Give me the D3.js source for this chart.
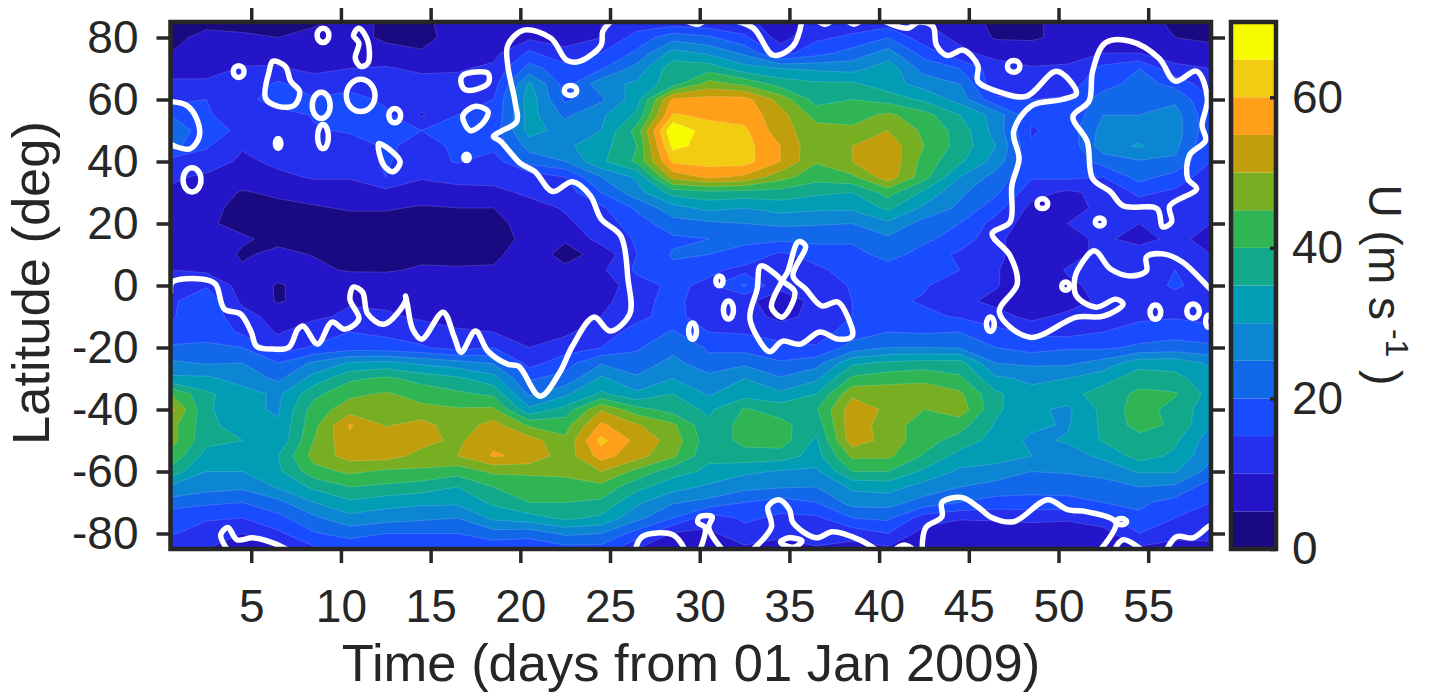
<!DOCTYPE html>
<html>
<head>
<meta charset="utf-8">
<script src="https://d3js.org/d3.v7.min.js"></script>
<style>
  html, body { margin: 0; padding: 0; background: #fff; }
  text { font-family: "Liberation Sans", Arial, sans-serif; fill: #262626; }
</style>
</head>
<body>
<div id="chart"></div>
<script>
// Zonal wind U, latitude against time

// grid columns, days from 01 Jan 2009
const days = d3.range(30).map(i => 0.5 + i * 2);
// grid rows, north to south
const lats = d3.range(35).map(i => 85 - i * 5);

// U (m/s), one line per latitude in the order of lats
const uRows = [
  [3,4,4,4,4,7,4,4,7,7,8,9,10,12,12,11,11,8,11,12,12,10,7,4,4,7,8,7,4,3],
  [4,6,5.5,5,7,7,4,3.5,7,6,9,8.5,10,17,23,21,16,8,14,16,20,12,9,4.5,4.5,6,7,7,5,4],
  [5,7,7.5,8,8,9,7,5.5,7,8.5,16,11,15,21,32,29,24,13,18,22,27,18,11,8.5,7,7.5,10,10,8,7],
  [9,8,10.5,10.5,9,10,10.5,9,9.5,11,22,17,19.5,27,38,38,32,30,29,28,33,23,20,12,10.5,11,16.5,20,11,10],
  [10.5,11,11,16,12,13,11,12,11.5,12.5,31,18,28,31,38,47,44,38,36,36,32,28,25,11.5,11.5,13,18,22,18.5,12],
  [12.5,15,12,19,15.5,17,14,12.5,14.5,15,33,19,24,33,56,57,57,48,38,40,38,34,28,16,15,15.5,22.5,23.5,24,15],
  [20,16,10.5,12,15.5,15,16,9.5,15,16,32,24,29,36,60.5,59,58,52,43,43,46,42,35,28,16,15.5,25,25,27,16],
  [24,17,14,13.5,14.5,15.5,16.5,15,15.5,17,32,28,30,42,70,62,61,52,47,46,50,44,38,28,14.5,17,27,28,27.5,16],
  [22,15.5,10.5,13,12,13,15.5,14,15.5,16.5,27,29,33,40,66.5,63,62,55,46,50,53,45,38,30,15.5,16,28,30.5,26.5,15],
  [13,13,9,11,12,13,15.5,12.5,15.5,12.5,22,25,34,41,61,62,62,55,45.5,50,54,43,36,28,15.5,16,22,24.5,24,15],
  [11,9,8,9,10.5,10.5,15,10.5,11,12,12,15,25,31,52,56,54,47,42,44,53,42,30,23,15.5,16,15,22,18,12],
  [9,8,4.5,6,7,7,8.5,7.5,9,8.5,11,12.5,20,28,37,38.5,38,38,36,35,42,34,26,21,12,9,11.5,16,14,12],
  [8.5,6,4,3.5,4.5,5.5,5.5,4.5,5,5,8,10.5,14,21,28,31.5,30,32,31,31,36,29,24,17,8.5,8.5,11,12.5,11,11],
  [7,5.5,4,4,3,3,3,3,3,3.5,7,9,12.5,17.5,23,24,25,26,25.5,25,29,23,20,13,7.5,10,11.5,10,12,10],
  [7,7,5.5,4,3.5,3,3,3,3,3.5,6,5.5,12,15.5,19,20,21,21,21.5,21,24,21,18,11.5,6,8.5,11,8,11.5,8],
  [7.5,7.5,4.5,6,4.8,3.5,3.5,4,3.5,4,7.5,3.5,6.5,15,20.5,20,18.5,14,17,18,22,18,14,11,7.5,8,11.5,13,14,10],
  [10,9,5.5,7,6,4.5,4.5,5.5,5.5,5.5,6.5,6,9,16,19,16,13.5,13,14,17,17.5,17,15,10.5,6,10.5,15,13.5,15,12],
  [12,14.5,8,4.5,7,9,8,7,7,6.5,6.5,6.5,7,13,16,14,20.5,11,12,15.5,16.5,15.5,12,10.5,6,9,11.5,11.5,16,12],
  [14,18.5,9,4.5,7,9.5,8.5,7.5,8,7,7,7,8,14,16,13,11,8,11,15,16,14.5,11.5,8.5,5.5,7,11.5,12,12.5,11],
  [14.5,18,12,8,9,11,11,9,8.5,7.5,7.5,7.5,10,14,16.5,12.5,11.5,9,11,15,17,16,14.5,12,8.5,11.5,12.5,14,14.5,13],
  [15.5,19,14,9.5,13,15,14,13,10.5,10,8.5,9,13,16.5,20.5,15,14.5,12,12.5,17.5,20,19.5,20,16.5,14,13,15,17,18,17],
  [21,20.5,20,12.5,15.5,17.5,17,15.5,13,15,10,12.5,15,19.5,23,19.5,18,17,15.5,22,25,25,24.5,20,18,19.5,19,21,22,21],
  [26,24.5,25,20,26,30.5,31.5,29,27,24.5,13,18,24.5,21.5,27,21,24,20.5,23,34,36,37,37,25,24,24,27,33,33,29],
  [31,31,28,24,32,39,41,38,36,32,19.5,21.5,31,26,30,27,30,25.5,29,41,43,44,41,31,29,30,33,38,36.5,32],
  [45,36,32,29,38.5,44,45.5,43.5,41,39,24,29,36,31,35,29.5,33,31,35,49,48,47.5,46,36,31.5,33,37.5,41,40.5,33],
  [52,36,31,29.5,42.5,47.5,47,46,45.5,46,31,37,49.5,42,38,34,40.5,38,39.5,53,49,45,48,36,31,29,36.5,42.5,38,32],
  [47,37,31.5,30.5,43.5,55.5,49.5,52,47,52,44,43,56,50.5,46,36,42,41.5,37,53.5,47,43,42,34.5,31,29.5,36,42,39,30],
  [47,36.5,35,31,45,54,53,51.5,49,54,52.5,46,61.5,53.5,48,37,41.5,42.5,34,53,48,42,38,33,29,30.5,35.5,38,36,27],
  [44,33,32,35,47,52,52,48.5,50,55.5,54,47,57,52,46,36,38,37.5,33,46,46,39.5,33,32,30,28,31,37,34,26],
  [38,30,30,34,43,46,44,44,42,46,46,47,50,43.5,37,34,31,29.5,29,40,40,34,29,28,25,25.5,27,30.5,30.5,23],
  [29,27,26,30.5,36,40,39,37.5,35,40,42,41.5,43.5,36.5,32,29,26.5,25.5,25,31,32,28,25,23,22,22,22.5,25,24,17],
  [23,21,20,23.5,30,34,32,31,31,36,40,40,39,31,25.5,23.5,20,17.5,20,27,27,23,20,18,18,18.5,20,21,18,15],
  [16,15.5,15,18.5,24,28.5,27,26,25,31,33,36,34,26.5,20,12,16,14,14,20,21,12.5,10.5,11,11.5,11,13,19,15,14],
  [15.5,13,10,14,19.5,22,20,20,20,23,22,26,25,18,9.5,9,13,11,14,12,15,8,6.5,6,6.5,6,8,15,11.5,11],
  [10,10,8,9,14,16,15,15,16,16,16,18,18,10,7,7,9,8,9,8,9,7,6,6,6,6,7,9,8,9]
];

// colour levels, lower edge of each band in m/s
const levels = d3.range(0, 70, 5);
const levelColors = ["#1a0a82", "#2415c8", "#2430ee", "#1a4cff", "#1168e8", "#0c86d2", "#009db5",
  "#12a98a", "#30b555", "#78ae22", "#c19f0c", "#ff9f1a", "#f2cc10", "#f6fb00"];

const dayTicks = [5, 10, 15, 20, 25, 30, 35, 40, 45, 50, 55];
const latTicks = [-80, -60, -40, -20, 0, 20, 40, 60, 80];
const barTicks = [0, 20, 40, 60];

// white contour, open lines as [day, lat]
const whiteLines = [
  [[0.5,-2],[0.6,1.1],[2.2,2.1],[3,0.5],[3.5,-7.6],[4.4,-9.2],[5,-15],[5.3,-19.6],[6.2,-20.5],[7.1,-19.9],[7.6,-14.1],[7.9,-13.1],[8.7,-18.9],[9.5,-11.8],[10.2,-14.1],[11,-10.8],[10.5,-4.4],[10.7,-0.5],[11.2,-2.1],[11.5,-9.2],[12.4,-12.5],[13.6,-5],[13.6,-3.4],[13.7,-6],[14,-14.1],[14.5,-17.3],[15.7,-8.6],[16.3,-16.3],[16.7,-21.5],[17.5,-14.7],[18.2,-21.2],[19.3,-25.4],[19.9,-26],[21.1,-35.7],[22.2,-28],[22.9,-19.6],[24.1,-10.2],[25,-14.7],[26.1,-9.2],[26,2.1],[25.6,16],[24.5,21.5],[23.9,29],[22.9,33.5],[21.8,30.3],[20.8,36.8],[20,39.4],[18.9,46.5],[18.5,48.1],[18.9,49.7],[19.8,52.9],[19.7,59.4],[19.3,71],[19.3,77.5],[20.2,82.4],[21.7,79.8],[22.6,72.6],[23.3,72.3],[24.5,77.5],[24.6,82],[25.1,85.5]],
  [[29.2,85.5],[29.9,84.3],[30.3,85.5]],
  [[31.9,85.5],[33,83],[34.1,74.3],[35.2,77.2],[35.7,85.5]],
  [[36.5,85.5],[37,84.3],[37.4,85.5]],
  [[38.2,85.5],[38.6,84.3],[39,85.5]],
  [[40.2,85.5],[41.6,83],[42.2,85],[43,83.6],[43.2,77.5],[43.8,74.2],[44.7,75.9],[45.5,71],[45.5,65.9],[46.6,62.6],[48.2,61],[49.9,69.1],[51,62],[50.2,60],[48.5,58],[47.5,49.7],[47.8,40.9],[47.4,32.2],[47.3,20.5],[46.3,16.7],[47.3,9.6],[47.7,0.5],[46.7,-8.6],[48.4,-16.7],[51,-10.2],[52.5,-9.9],[53.6,-6],[53.2,-4.4],[52.1,-7],[51,-3.4],[50.9,2.1],[51.2,6.3],[52,11.2],[52.9,5.3],[54,3.1],[54.9,4.7],[54.9,9.2],[55.8,10.2],[56.9,7.6],[58.3,-0.2],[58.6,-2]],
  [[42.4,-85.5],[42.6,-78.1],[43.5,-74.6],[43.5,-70],[44.6,-68.4],[45.5,-71.4],[46.3,-74.9],[47.5,-76.2],[49.4,-69.1],[50.5,-72.3],[51.6,-73],[53.2,-76.5],[52.3,-85.5]],
  [[53.1,-85.5],[53.6,-82],[54.7,-85.5]],
  [[56,-85.5],[56.6,-81],[57.5,-81.4],[58.3,-78],[58.6,-77]],
  [[32.9,-85.5],[34,-77.8],[33.8,-71.4],[34.4,-69.1],[35,-72.3],[35.2,-76.5],[36.5,-81.4],[37.4,-79.4],[38.9,-82],[39.9,-85.5]],
  [[40.8,-85.5],[41.4,-83.7],[42,-85.5]],
  [[26.4,-85.5],[26.8,-81],[28.5,-80.4],[29.2,-85.5]],
  [[30,-85.5],[30.3,-78.1],[29.9,-76.5],[30,-74.6],[30.7,-74.6],[30.5,-78.1],[31.3,-85.5]],
  [[3.7,-85.5],[3.3,-80.4],[3.7,-78.1],[4.2,-82],[5.1,-81.4],[6.2,-83],[7.1,-85.5]],
  [[0.4,59.4],[1.4,58.1],[2,53.2],[2.1,48],[1.6,44.1],[0.8,44.8],[0.4,46]]
];

// white contour, closed loops as [day, lat]
const whiteLoops = [
  [[52.6,78.2],[54,78.8],[55.6,73.3],[56.5,65.9],[57.7,69.1],[58.3,60.4],[58,51.6],[58.2,46.8],[57.3,42],[57.2,34.5],[57.7,31.2],[56.2,25.7],[56.3,20.5],[55.8,18.9],[55.5,24.7],[53.6,25.7],[52.9,30.2],[51.9,34.5],[51.6,46.4],[50.8,54.5],[51.7,59.4],[51.9,69.1]],
  [[33.2,-1.1],[32.8,-10.8],[33.8,-21.2],[34,-21.2],[34.6,-18],[35.6,-18.9],[36.7,-15],[37.7,-17.3],[38.5,-16.3],[38.3,-10.8],[37.7,-5.3],[36.8,-6.6],[35.9,-1.1],[35.2,3.1],[35.9,12.8],[35.5,14.1],[34.9,4.4],[34.6,1.5],[34,-7],[34.6,-10.2],[35.3,-2.1],[34.6,1.5],[34.2,3.7],[33.4,6.3]],
  [[34.5,-82.7],[35,-81.4],[35.7,-82.4],[35.3,-84.3],[34.8,-84]],
  [[6.2,72.3],[6.9,70.7],[7.2,65.9],[7.7,62.6],[7.4,58.1],[6.5,57.8],[5.8,60.4],[6,69.1]],
  [[11,83],[11.5,78.8],[11.5,71.7],[11.1,70.7],[10.8,73.3],[11,78.2],[10.7,80.7]],
  [[12.1,45.8],[13.3,40],[12.9,36.7],[12.4,38.7]],
  [[16.8,54.8],[17.5,57.8],[18.2,56.1],[17.9,52.3],[17.2,50]],
  [[16.7,65.2],[16.8,67.8],[18.2,68.4],[18.2,65.2],[17,63]]
];

// small white rings: [day, lat, half width in days, half height in deg]
const whiteRings = [
  [1.7,34.1,0.5,3.9],[4.3,69,0.3,1.9],[8.9,58.1,0.5,4.2],[9,48,0.3,3.9],[6.5,45.8,0.15,1.6],
  [11.1,61.3,0.8,5.2],[9,80.7,0.33,2.3],[13,54.8,0.33,2.3],[17,41.3,0.15,1],[22.8,62.9,0.35,1.6],
  [31.1,1.5,0.2,1.6],[31.6,-7.9,0.28,2.9],[29.6,-14.7,0.22,2.6],[47.5,70.7,0.35,1.9],[49.1,26.4,0.3,1.6],
  [52.3,20.5,0.25,1.3],[46.2,-12.5,0.22,2.3],[50.4,-0.2,0.22,1.3],[55.4,-8.6,0.3,2.3],[57.5,-8.3,0.35,2.3],
  [58.4,-11.5,0.2,2],[53.5,-76.2,0.3,1]
];

const width = 1439, height = 699;
const plot = { left: 170.5, right: 1211, top: 22, bottom: 549 };
const bar = { left: 1231, right: 1276 };
const ink = "#262626";
const fontSize = 46;
const titleSize = 52.5;

const svg = d3.select("#chart").append("svg")
  .attr("width", width).attr("height", height)
  .style("display", "block");

const x = d3.scaleLinear().domain([0.5, 58.5]).range([plot.left, plot.right]);
const y = d3.scaleLinear().domain([-85, 85]).range([plot.bottom, plot.top]);

svg.append("clipPath").attr("id", "plot-clip").append("rect")
  .attr("x", plot.left).attr("y", plot.top)
  .attr("width", plot.right - plot.left).attr("height", plot.bottom - plot.top);

const field = svg.append("g").attr("clip-path", "url(#plot-clip)");

// filled bands
const contours = d3.contours()
  .size([days.length, lats.length])
  .thresholds(levels)(uRows.flat());

const dayStep = days[1] - days[0];
const latStep = lats[1] - lats[0];
const gridPath = d3.geoPath(d3.geoTransform({
  point(gx, gy) {
    this.stream.point(x(days[0] + (gx - 0.5) * dayStep), y(lats[0] + (gy - 0.5) * latStep));
  }
}));

field.append("rect")
  .attr("x", plot.left).attr("y", plot.top)
  .attr("width", plot.right - plot.left).attr("height", plot.bottom - plot.top)
  .attr("fill", levelColors[0]);

field.selectAll("path.band")
  .data(contours)
  .enter().append("path")
  .attr("class", "band")
  .attr("d", gridPath)
  .attr("fill", (d, i) => levelColors[i])
  .attr("stroke", "rgba(255,255,255,0.22)")
  .attr("stroke-width", 0.7);

// white contour
const openLine = d3.line().x(d => x(d[0])).y(d => y(d[1])).curve(d3.curveCatmullRom.alpha(0.5));
const closedLine = d3.line().x(d => x(d[0])).y(d => y(d[1])).curve(d3.curveCatmullRomClosed.alpha(0.5));

const whiteStyle = g => g.attr("fill", "none").attr("stroke", "#fff").attr("stroke-width", 5.5)
  .attr("stroke-linejoin", "round").attr("stroke-linecap", "round");

field.append("g").call(whiteStyle).selectAll("path.open")
  .data(whiteLines).enter().append("path").attr("class", "open").attr("d", openLine);
field.append("g").call(whiteStyle).selectAll("path.loop")
  .data(whiteLoops).enter().append("path").attr("class", "loop").attr("d", closedLine);
field.append("g").call(whiteStyle).selectAll("ellipse")
  .data(whiteRings).enter().append("ellipse")
  .attr("cx", d => x(d[0])).attr("cy", d => y(d[1]))
  .attr("rx", d => x(d[0] + d[2]) - x(d[0]))
  .attr("ry", d => y(d[1] - d[3]) - y(d[1]));

// axes
function styleAxis(g) {
  g.select(".domain").remove();
  g.selectAll(".tick line").attr("stroke", ink).attr("stroke-width", 3.5);
  g.selectAll(".tick text").style("font-size", fontSize + "px").attr("fill", ink);
}

svg.append("g").attr("transform", `translate(0,${plot.bottom})`)
  .call(d3.axisBottom(x).tickValues(dayTicks).tickSize(14).tickPadding(26).tickFormat(d3.format("d")))
  .call(styleAxis);
svg.append("g").attr("transform", `translate(0,${plot.top})`)
  .call(d3.axisTop(x).tickValues(dayTicks).tickSize(14).tickFormat(""))
  .call(styleAxis);
svg.append("g").attr("transform", `translate(${plot.left},0)`)
  .call(d3.axisLeft(y).tickValues(latTicks).tickSize(14).tickPadding(18).tickFormat(d => String(d)))
  .call(styleAxis);
svg.append("g").attr("transform", `translate(${plot.right},0)`)
  .call(d3.axisRight(y).tickValues(latTicks).tickSize(14).tickFormat(""))
  .call(styleAxis);

svg.append("rect")
  .attr("x", plot.left).attr("y", plot.top)
  .attr("width", plot.right - plot.left).attr("height", plot.bottom - plot.top)
  .attr("fill", "none").attr("stroke", ink).attr("stroke-width", 4.5);

// colour bar
const barScale = d3.scaleLinear().domain([0, 70]).range([plot.bottom, plot.top]);
svg.append("g").selectAll("rect")
  .data(levels).enter().append("rect")
  .attr("x", bar.left).attr("width", bar.right - bar.left)
  .attr("y", d => barScale(d + 5))
  .attr("height", d => barScale(d) - barScale(d + 5))
  .attr("fill", (d, i) => levelColors[i]);

svg.append("g").attr("transform", `translate(${bar.right},0)`)
  .call(d3.axisRight(barScale).tickValues(barTicks).tickSize(-6).tickPadding(16).tickFormat(d3.format("d")))
  .call(styleAxis);

svg.append("rect")
  .attr("x", bar.left).attr("y", plot.top)
  .attr("width", bar.right - bar.left).attr("height", plot.bottom - plot.top)
  .attr("fill", "none").attr("stroke", ink).attr("stroke-width", 4.5);

// titles
svg.append("text")
  .attr("x", 691).attr("y", 681)
  .attr("text-anchor", "middle")
  .style("font-size", titleSize + "px")
  .text("Time (days from 01 Jan 2009)");

svg.append("text")
  .attr("transform", "translate(49,283) rotate(-90)")
  .attr("text-anchor", "middle")
  .style("font-size", titleSize + "px")
  .text("Latitude (deg)");

const barLabel = svg.append("text")
  .attr("transform", "translate(1369,285) rotate(90)")
  .attr("text-anchor", "middle")
  .style("font-size", "46px");
barLabel.append("tspan").text("U (m s");
barLabel.append("tspan").attr("dy", -17).style("font-size", "32px").text(" -1");
barLabel.append("tspan").attr("dy", 17).text(" )");
</script>
</body>
</html>
